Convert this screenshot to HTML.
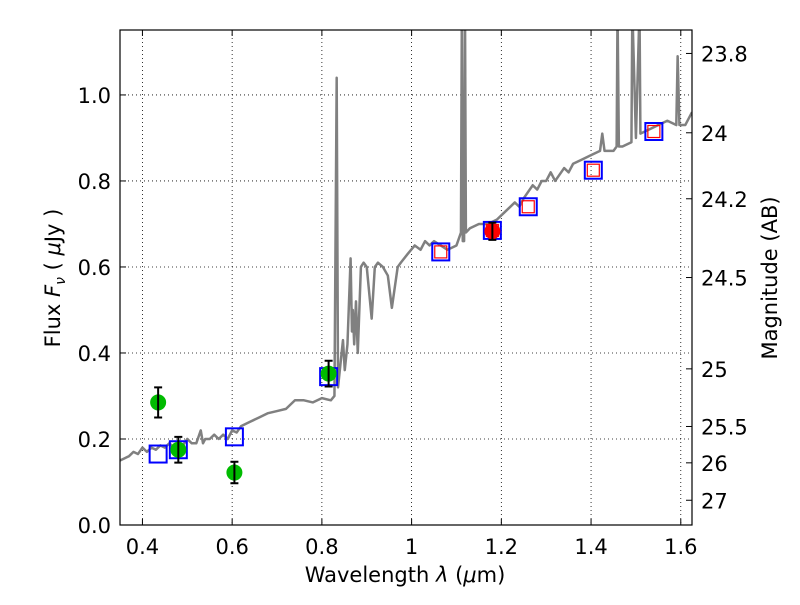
<!DOCTYPE html>
<html><head><meta charset="utf-8"><style>
body{margin:0;background:#fff}
svg text{font-family:"DejaVu Sans","Liberation Sans",sans-serif}
</style></head><body>
<svg id="chart" width="800" height="600" viewBox="0 0 800 600" xmlns="http://www.w3.org/2000/svg">
<rect width="800" height="600" fill="#fff"/>
<g id="grid"></g>
<g id="spec"></g>
<g id="marks"></g>
<rect x="120" y="30" width="572" height="495" fill="none" stroke="#000" stroke-width="1.2"/>
<g id="axes"></g>
<text x="405" y="582" font-size="21" text-anchor="middle">Wavelength  <tspan font-style="italic">λ</tspan> (<tspan font-style="italic">μ</tspan>m)</text>
<text transform="translate(60,278) rotate(-90)" font-size="21" text-anchor="middle">Flux  <tspan font-style="italic">F<tspan font-size="14" dy="5">ν</tspan></tspan><tspan dy="-5">  ( </tspan><tspan font-style="italic">μ</tspan>Jy )</text>
<text transform="translate(777,278) rotate(-90)" font-size="21" text-anchor="middle">Magnitude (AB)</text>
</svg>
<script>
const specLam=[0.35,0.36,0.37,0.38,0.39,0.40,0.41,0.42,0.43,0.44,0.45,0.46,0.47,0.48,0.49,0.50,0.51,0.52,0.53,0.535,0.54,0.55,0.56,0.57,0.58,0.59,0.60,0.61,0.62,0.64,0.66,0.68,0.70,0.72,0.74,0.76,0.78,0.80,0.82,0.828,0.833,0.836,0.840,0.847,0.851,0.857,0.864,0.867,0.869,0.872,0.876,0.880,0.887,0.893,0.900,0.911,0.918,0.925,0.936,0.947,0.956,0.969,0.976,0.991,1.007,1.02,1.03,1.04,1.05,1.08,1.10,1.110,1.112,1.114,1.117,1.119,1.121,1.13,1.15,1.17,1.19,1.21,1.23,1.24,1.25,1.27,1.28,1.29,1.30,1.31,1.32,1.34,1.35,1.36,1.38,1.40,1.42,1.425,1.43,1.45,1.457,1.459,1.462,1.47,1.49,1.492,1.50,1.508,1.51,1.53,1.55,1.57,1.59,1.593,1.597,1.61,1.625];
const specFlux=[0.15,0.155,0.16,0.17,0.165,0.18,0.17,0.18,0.175,0.185,0.18,0.19,0.18,0.19,0.185,0.20,0.19,0.19,0.22,0.19,0.20,0.20,0.21,0.20,0.21,0.20,0.22,0.215,0.23,0.24,0.25,0.26,0.265,0.27,0.29,0.29,0.285,0.295,0.29,0.30,1.04,0.32,0.36,0.43,0.36,0.42,0.62,0.45,0.50,0.42,0.52,0.40,0.60,0.61,0.60,0.48,0.60,0.61,0.60,0.58,0.505,0.60,0.61,0.63,0.65,0.64,0.66,0.65,0.66,0.64,0.65,0.68,1.2,0.66,0.66,1.2,0.68,0.69,0.70,0.70,0.71,0.73,0.75,0.74,0.76,0.79,0.78,0.80,0.80,0.82,0.80,0.83,0.82,0.84,0.85,0.86,0.87,0.91,0.87,0.87,0.88,1.2,0.88,0.88,0.89,1.2,0.90,1.2,0.91,0.92,0.93,0.94,0.93,1.09,0.93,0.93,0.96];
const modelLam=[0.435,0.48,0.605,0.815,1.065,1.18,1.26,1.405,1.54];
const modelFlux=[0.165,0.175,0.205,0.345,0.635,0.685,0.74,0.825,0.915];
const nirLam=[1.065,1.18,1.26,1.405,1.54];
const nirFlux=[0.635,0.685,0.74,0.825,0.915];
const optLam=[0.435,0.48,0.605,0.815];
const optFlux=[0.285,0.175,0.122,0.352];
const optErr=[0.035,0.03,0.025,0.03];
const redLam=[1.18];const redFlux=[0.683];const redErr=[0.02];
const xTicks=[0.4,0.6,0.8,1,1.2,1.4,1.6];
const xTickLabels=["0.4","0.6","0.8","1","1.2","1.4","1.6"];
const yTicks=[0,0.2,0.4,0.6,0.8,1.0];
const yTickLabels=["0.0","0.2","0.4","0.6","0.8","1.0"];
const magTicks=[23.8,24,24.2,24.5,25,25.5,26,27];
const magTickLabels=["23.8","24","24.2","24.5","25","25.5","26","27"];
const X0=120,X1=692,Y0=525,Y1=30,XMIN=0.35,XMAX=1.625,YMIN=0,YMAX=1.151;
const sx=v=>X0+(v-XMIN)/(XMAX-XMIN)*(X1-X0);
const sy=v=>Y0-(v-YMIN)/(YMAX-YMIN)*(Y0-Y1);
const NS="http://www.w3.org/2000/svg";
function mk(tag,attrs,parent){const e=document.createElementNS(NS,tag);for(const k in attrs)e.setAttribute(k,attrs[k]);parent.appendChild(e);return e;}
const grid=document.getElementById('grid'),axes=document.getElementById('axes'),spec=document.getElementById('spec'),marks=document.getElementById('marks');
xTicks.forEach((t,i)=>{const x=sx(t);
 const g=mk('line',{x1:x,x2:x,y1:Y1,y2:Y0,stroke:'#000','stroke-width':0.8,'stroke-dasharray':'1,3'},grid);
 
 mk('line',{x1:x,x2:x,y1:Y0,y2:Y0-6,stroke:'#000'},axes);mk('line',{x1:x,x2:x,y1:Y1,y2:Y1+6,stroke:'#000'},axes);
 const l=mk('text',{x:x,y:Y0+29,'font-size':21,'text-anchor':'middle'},axes);l.textContent=xTickLabels[i];
 });
yTicks.forEach((t,i)=>{const y=sy(t);
 const g=mk('line',{x1:X0,x2:X1,y1:y,y2:y,stroke:'#000','stroke-width':0.8,'stroke-dasharray':'1,3'},grid);
 
 mk('line',{x1:X0,x2:X0+6,y1:y,y2:y,stroke:'#000'},axes);
 const l=mk('text',{x:X0-9,y:y+8,'font-size':21,'text-anchor':'end'},axes);l.textContent=yTickLabels[i];
 });
magTicks.forEach((m,i)=>{const y=sy(Math.pow(10,(23.9-m)/2.5));
 mk('line',{x1:X1,x2:X1-6,y1:y,y2:y,stroke:'#000'},axes);
 const l=mk('text',{x:X1+9,y:y+8,'font-size':21},axes);l.textContent=magTickLabels[i];
 });
const p=mk('polyline',{points:specLam.map((l,i)=>sx(l)+','+sy(Math.min(specFlux[i],1.3))).join(' '),fill:'none',stroke:'#808080','stroke-width':2.5,'stroke-linejoin':'round'},spec);

spec.setAttribute('clip-path','url(#clip)');
const defs=mk('defs',{},document.getElementById('chart'));const cp=mk('clipPath',{id:'clip'},defs);mk('rect',{x:X0,y:Y1,width:X1-X0,height:Y0-Y1},cp);
nirLam.forEach((l,i)=>{const r=mk('rect',{x:sx(l)-6,y:sy(nirFlux[i])-6,width:12,height:12,fill:'none',stroke:'#f00','stroke-width':1.2},marks);
 });
modelLam.forEach((l,i)=>{const r=mk('rect',{x:sx(l)-8.5,y:sy(modelFlux[i])-8.5,width:17,height:17,fill:'none',stroke:'#00f','stroke-width':2},marks);
 });
function pts(L,F,E,col,name){L.forEach((l,i)=>{const x=sx(l);
 const c=mk('circle',{cx:x,cy:sy(F[i]),r:8,fill:col},marks);
 
 const y1=sy(F[i]+E[i]),y2=sy(F[i]-E[i]);
 const e=mk('path',{d:`M${x},${y1}V${y2}M${x-4},${y1}H${x+4}M${x-4},${y2}H${x+4}`,stroke:'#000','stroke-width':2,fill:'none'},marks);
 });}
pts(optLam,optFlux,optErr,'#00bb00','optical-flux-point');
pts(redLam,redFlux,redErr,'#ff0000','nir-flux-point');
</script>
</body></html>
